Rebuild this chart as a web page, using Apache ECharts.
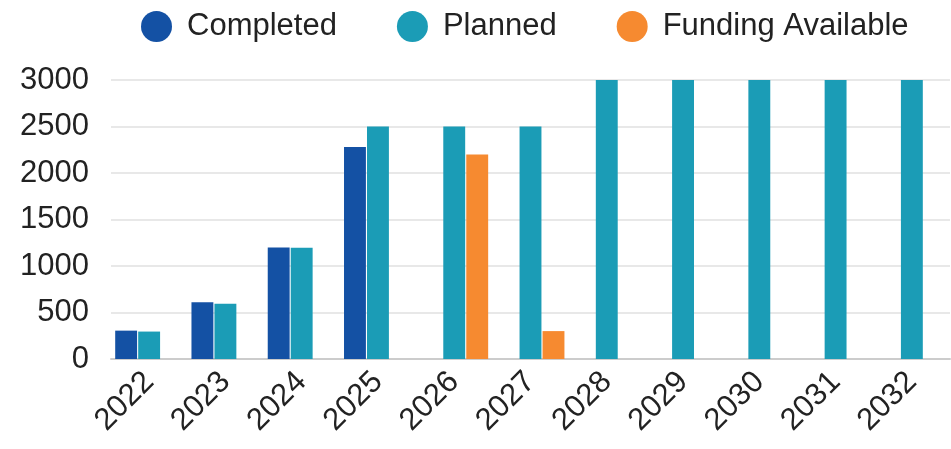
<!DOCTYPE html>
<html><head><meta charset="utf-8">
<script src="https://cdn.jsdelivr.net/npm/echarts@6/dist/echarts.min.js"></script>
<style>html,body{margin:0;padding:0;background:#fff}#c{width:951px;height:449px}</style>
</head><body><div id="c"></div>
<script>
const categories = ['2022','2023','2024','2025','2026','2027','2028','2029','2030','2031','2032'];
const completed = [305, 610, 1200, 2280, null, null, null, null, null, null, null];
const planned = [295, 595, 1195, 2500, 2500, 2500, 3000, 3000, 3000, 3000, 3000];
const fundingAvailable = [null, null, null, null, 2200, 300, null, null, null, null, null];
const yTicks = [0, 500, 1000, 1500, 2000, 2500, 3000];

const chart = echarts.init(document.getElementById('c'));
const font = 'Liberation Sans, Arial, sans-serif';
chart.setOption({
  animation: false,
  legend: {
    left: 136, top: 6,
    icon: 'circle', itemWidth: 31, itemHeight: 31, itemGap: 60,
    textStyle: { fontFamily: font, fontSize: 31, color: '#222', padding: [0,0,0,10] },
    data: ['Completed', 'Planned', 'Funding Available']
  },
  grid: { left: 111, right: 1, top: 80, bottom: 90 },
  xAxis: {
    type: 'category', data: categories,
    axisTick: { show: false },
    axisLine: { lineStyle: { color: '#ccc', width: 2 } },
    axisLabel: { rotate: 45, fontFamily: font, fontSize: 31, color: '#222', margin: 18 }
  },
  yAxis: {
    type: 'value', min: yTicks[0], max: yTicks[yTicks.length-1], interval: 500,
    axisLabel: { fontFamily: font, fontSize: 31, color: '#222', margin: 22, formatter: v => String(v) },
    splitLine: { lineStyle: { color: '#e8e8e8', width: 2 } }
  },
  series: [
    { name: 'Completed', type: 'bar', data: completed, itemStyle: { color: '#1451a4' }, barGap: '5%', barCategoryGap: '11%' },
    { name: 'Planned', type: 'bar', data: planned, itemStyle: { color: '#1b9cb6' } },
    { name: 'Funding Available', type: 'bar', data: fundingAvailable, itemStyle: { color: '#f68a30' } }
  ]
});
</script></body></html>
